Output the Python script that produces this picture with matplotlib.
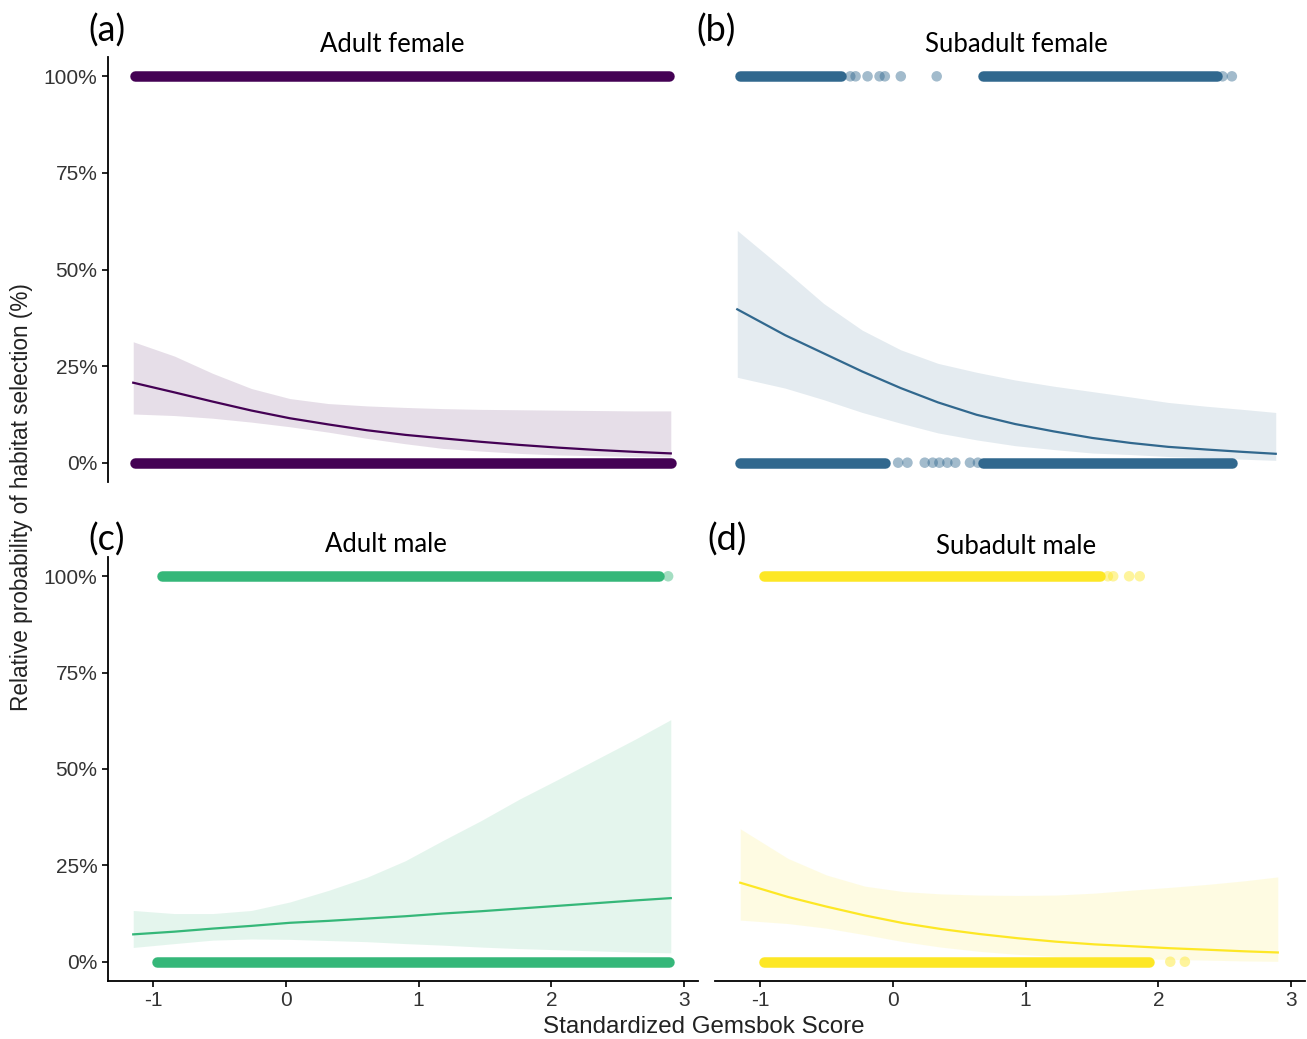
import numpy as np
import matplotlib
matplotlib.use('Agg')
import matplotlib.pyplot as plt

# ---------------- data ----------------
panel_tags = ['(a)', '(b)', '(c)', '(d)']
panel_titles = ['Adult female', 'Subadult female', 'Adult male', 'Subadult male']
colors = ['#440154', '#31688E', '#35B779', '#FDE725']

x_ticks = [-1, 0, 1, 2, 3]
y_ticks = [0, 0.25, 0.5, 0.75, 1.0]
y_tick_labels = ['0%', '25%', '50%', '75%', '100%']

# fitted curves (x grid, fit, lower CI, upper CI)
af_x = [-1.15, -0.84, -0.55, -0.26, 0.03, 0.32, 0.61, 0.90, 1.18, 1.47, 1.76, 2.05, 2.34, 2.63, 2.90]
af_fit = [.207, .182, .158, .135, .115, .099, .084, .072, .063, .054, .046, .039, .033, .028, .024]
af_lo = [.126, .122, .115, .105, .093, .079, .063, .049, .037, .030, .024, .020, .018, .016, .015]
af_hi = [.313, .276, .231, .192, .166, .153, .147, .143, .140, .138, .137, .136, .135, .134, .134]

sf_x = [-1.15, -0.79, -0.50, -0.21, 0.08, 0.36, 0.65, 0.94, 1.23, 1.52, 1.81, 2.09, 2.38, 2.65, 2.90]
sf_fit = [.397, .330, .283, .236, .193, .156, .124, .100, .081, .064, .051, .041, .034, .028, .023]
sf_lo = [.221, .193, .163, .130, .102, .077, .059, .044, .034, .025, .021, .016, .013, .009, .006]
sf_hi = [.601, .498, .412, .343, .292, .257, .234, .214, .198, .184, .170, .156, .146, .138, .130]

am_x = [-1.15, -0.84, -0.55, -0.26, 0.03, 0.32, 0.61, 0.90, 1.18, 1.47, 1.76, 2.05, 2.34, 2.63, 2.90]
am_fit = [.071, .078, .086, .093, .101, .106, .112, .118, .125, .131, .138, .145, .152, .159, .165]
am_lo = [.037, .047, .056, .059, .058, .055, .052, .047, .043, .038, .034, .031, .028, .025, .023]
am_hi = [.133, .125, .125, .133, .155, .185, .219, .262, .314, .366, .422, .473, .525, .577, .628]

sm_x = [-1.15, -0.79, -0.50, -0.21, 0.08, 0.36, 0.65, 0.94, 1.23, 1.52, 1.81, 2.09, 2.38, 2.65, 2.90]
sm_fit = [.205, .168, .143, .120, .100, .085, .072, .061, .052, .045, .040, .035, .031, .027, .024]
sm_lo = [.108, .099, .087, .070, .052, .038, .027, .019, .014, .011, .008, .006, .004, .002, .001]
sm_hi = [.345, .268, .225, .196, .182, .176, .173, .172, .173, .178, .186, .193, .201, .210, .220]

# observations: dense runs (start, end) and isolated points, for used (1) and available (0)
af_used_runs = [(-1.14, 2.89)]
af_used_pts = []
af_avail_runs = [(-1.14, 2.90)]
af_avail_pts = []

sf_used_runs = [(-1.13, -0.37), (0.70, 2.46)]
sf_used_pts = [-0.30, -0.26, -0.17, -0.08, -0.04, 0.08, 0.35, 2.50, 2.57]
sf_avail_runs = [(-1.13, -0.04), (0.70, 2.57)]
sf_avail_pts = [0.06, 0.13, 0.26, 0.32, 0.37, 0.43, 0.49, 0.60, 0.66]

am_used_runs = [(-0.93, 2.81)]
am_used_pts = [2.88]
am_avail_runs = [(-0.97, 2.89)]
am_avail_pts = []

sm_used_runs = [(-0.97, 1.56)]
sm_used_pts = [1.62, 1.66, 1.78, 1.86]
sm_avail_runs = [(-0.97, 1.93)]
sm_avail_pts = [2.09, 2.20]

fits = [(af_x, af_fit, af_lo, af_hi), (sf_x, sf_fit, sf_lo, sf_hi),
        (am_x, am_fit, am_lo, am_hi), (sm_x, sm_fit, sm_lo, sm_hi)]
obs = [(af_used_runs, af_used_pts, af_avail_runs, af_avail_pts),
       (sf_used_runs, sf_used_pts, sf_avail_runs, sf_avail_pts),
       (am_used_runs, am_used_pts, am_avail_runs, am_avail_pts),
       (sm_used_runs, sm_used_pts, sm_avail_runs, sm_avail_pts)]

# ---------------- figure ----------------
W, H = 1307, 1039
fig = plt.figure(figsize=(W / 100, H / 100), dpi=100)
fig.patch.set_facecolor('white')

def fx(px):
    return px / W

def fy(py):
    return 1 - py / H

# axes rectangles in pixel coords (left, top, right, bottom)
rects = [(108, 57, 698, 482), (712, 57, 1303, 482),
         (108, 557, 698, 981), (715, 557, 1305, 981)]
tag_pos = [(107, 31), (716, 31), (107, 540), (727, 540)]
title_pos = [(392, 44), (1016, 45), (386, 545), (1016, 546)]

xlim = (-1.34, 3.105)
ylim = (-0.05, 1.05)
dot_px = 10.5
dot_pt = dot_px * 0.72

for i in range(4):
    l, t, r, b = rects[i]
    ax = fig.add_axes([fx(l), fy(b), fx(r) - fx(l), fy(t) - fy(b)])
    ax.set_xlim(*xlim)
    ax.set_ylim(*ylim)
    ax.set_facecolor('none')
    col = colors[i]

    xs, fit, lo, hi = fits[i]
    ax.fill_between(xs, lo, hi, color=col, alpha=0.13, lw=0)
    ax.plot(xs, fit, color=col, lw=1.6, zorder=3)

    used_runs, used_pts, avail_runs, avail_pts = obs[i]
    for yv, runs, pts in [(1.0, used_runs, used_pts), (0.0, avail_runs, avail_pts)]:
        for (a, bb) in runs:
            ax.plot([a, bb], [yv, yv], color=col, lw=dot_pt, solid_capstyle='round', zorder=4)
        if pts:
            ax.scatter(pts, [yv] * len(pts), s=dot_pt ** 2, color=col, alpha=0.45,
                       edgecolors='none', zorder=4)

    for sp in ['top', 'right']:
        ax.spines[sp].set_visible(False)
    show_y = i in (0, 2)
    show_x = i in (2, 3)
    ax.spines['left'].set_visible(show_y)
    ax.spines['bottom'].set_visible(show_x)
    for sp in ['left', 'bottom']:
        ax.spines[sp].set_linewidth(1.3)
        ax.spines[sp].set_color('black')

    ax.set_yticks(y_ticks)
    ax.set_yticklabels(y_tick_labels)
    ax.set_xticks(x_ticks)
    ax.set_xticklabels([str(v) for v in x_ticks])
    ax.tick_params(axis='both', direction='out', length=4.5, width=1.2, color='black',
                   labelsize=15, labelcolor='#333333', pad=3)
    ax.tick_params(axis='y', left=show_y, labelleft=show_y)
    ax.tick_params(axis='x', bottom=show_x, labelbottom=show_x)
    for lab in ax.get_xticklabels() + ax.get_yticklabels():
        lab.set_family(['Liberation Sans', 'DejaVu Sans'])

    fig.text(fx(tag_pos[i][0]), fy(tag_pos[i][1]), panel_tags[i], ha='center', va='center',
             fontsize=26, family=['Lato', 'DejaVu Sans'], color='black')
    fig.text(fx(title_pos[i][0]), fy(title_pos[i][1]), panel_titles[i], ha='center', va='center',
             fontsize=18.5, family=['Lato', 'DejaVu Sans'], color='black')

fig.text(fx(22), fy(497), 'Relative probability of habitat selection (%)', rotation=90,
         ha='center', va='center', fontsize=16.3, family=['Liberation Sans', 'DejaVu Sans'],
         color='#222222')
fig.text(fx(704), fy(1027), 'Standardized Gemsbok Score', ha='center', va='center',
         fontsize=17.4, family=['Liberation Sans', 'DejaVu Sans'], color='#222222')

fig.savefig('out.png', dpi=100, facecolor='white')
